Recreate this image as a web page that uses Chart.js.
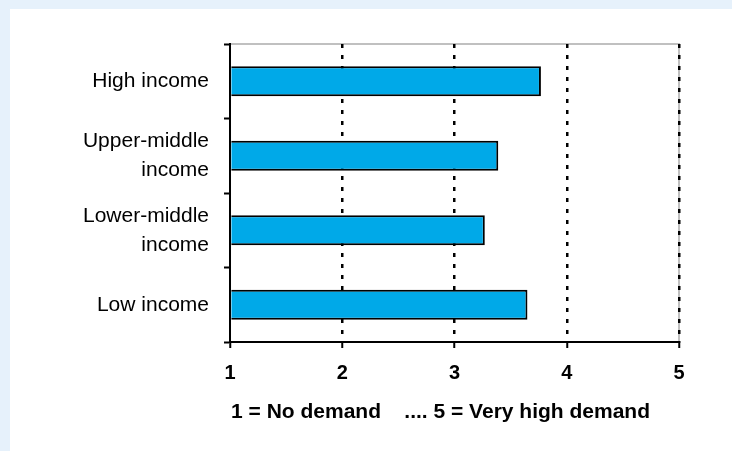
<!DOCTYPE html>
<html>
<head>
<meta charset="utf-8">
<script src="https://cdn.jsdelivr.net/npm/chart.js@4"></script>
<style>
  html, body { margin: 0; padding: 0; background: #fff; }
  #wrap { position: relative; width: 732px; height: 451px; }
</style>
</head>
<body>
<div id="wrap"><canvas id="demandChart" width="732" height="451"></canvas></div>
<script>
document.addEventListener("DOMContentLoaded", () => {
  const categories = [
    "High income",
    ["Upper-middle", "income"],
    ["Lower-middle", "income"],
    "Low income"
  ];
  const demandScores = [3.77, 3.39, 3.27, 3.65];
  const tickValues = [1, 2, 3, 4, 5];
  const axisTitle = "1 = No demand    .... 5 = Very high demand";

  const FONT = "Arial, 'Liberation Sans', sans-serif";

  // light blue frame on the left/top edge, grey top/right plot border
  const framePlugin = {
    id: "frame",
    beforeDraw(chart) {
      const { ctx, chartArea: a } = chart;
      ctx.save();
      ctx.fillStyle = "#e6f1fb";
      ctx.fillRect(0, 0, chart.width, 9);
      ctx.fillRect(0, 0, 10, chart.height);
      ctx.strokeStyle = "#c0c0c0";
      ctx.lineWidth = 2;
      ctx.beginPath();
      ctx.moveTo(a.left, a.top);
      ctx.lineTo(a.right, a.top);
      ctx.lineTo(a.right, a.bottom);
      ctx.stroke();
      ctx.restore();
    },
    // scale legend under the x axis, a bit left of centre
    afterDraw(chart) {
      const { ctx, chartArea: a } = chart;
      ctx.save();
      ctx.fillStyle = "#000";
      ctx.font = "bold 21px " + FONT;
      ctx.textAlign = "center";
      ctx.textBaseline = "middle";
      ctx.fillText(axisTitle, (a.left + a.right) / 2 - 14, a.bottom + 70);
      ctx.restore();
    }
  };

  new Chart(document.getElementById("demandChart"), {
    type: "bar",
    data: {
      labels: categories,
      datasets: [
        {
          data: demandScores,
          base: 1,
          backgroundColor: "#00a9e8",
          borderColor: "#000",
          borderWidth: 2,
          borderSkipped: "start",
          categoryPercentage: 1,
          barPercentage: 0.4
        }
      ]
    },
    options: {
      indexAxis: "y",
      responsive: false,
      animation: false,
      events: [],
      layout: { padding: { left: 0, right: 53, top: 44, bottom: 0 } },
      plugins: {
        legend: { display: false },
        tooltip: { enabled: false }
      },
      scales: {
        x: {
          min: 1,
          max: 5,
          afterBuildTicks(scale) {
            scale.ticks = tickValues.map(v => ({ value: v }));
          },
          afterFit(scale) { scale.height = 109; },
          grid: {
            // no dotted line on top of the y axis
            color: (c) => (c.tick && c.tick.value === 1 ? "rgba(0,0,0,0)" : "#000"),
            lineWidth: 2.5,
            tickLength: 6,
            tickColor: "#000",
            tickWidth: 2,
            tickBorderDash: []
          },
          border: { color: "#000", width: 2, dash: [4, 7] },
          ticks: {
            color: "#000",
            padding: 13,
            font: { family: FONT, size: 20, weight: "bold" }
          }
        },
        y: {
          offset: true,
          afterFit(scale) { scale.width = 230; },
          grid: {
            offset: true,
            drawOnChartArea: false,
            tickLength: 6,
            tickColor: "#000",
            tickWidth: 2
          },
          border: { color: "#000", width: 2 },
          ticks: {
            color: "#000",
            padding: 15,
            font: { family: FONT, size: 21, lineHeight: 1.38 }
          }
        }
      }
    },
    plugins: [framePlugin]
  });
});
</script>
</body>
</html>
